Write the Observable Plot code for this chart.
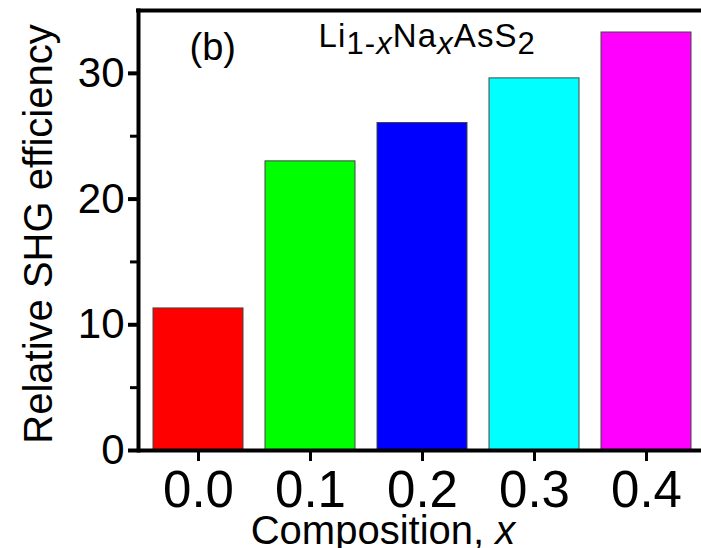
<!DOCTYPE html>
<html><head><meta charset="utf-8">
<script src="https://cdn.jsdelivr.net/npm/d3@7"></script>
<script src="https://cdn.jsdelivr.net/npm/@observablehq/plot@0.6"></script>
<style>
html,body{margin:0;padding:0;background:#fff;overflow:hidden;}
svg{overflow:hidden;display:block;}
</style></head><body><div id="chart"></div>
<script>
const compositions = ["0.0", "0.1", "0.2", "0.3", "0.4"];
const efficiency = [11.3, 23.0, 26.05, 29.6, 33.25];
const barColors = ["#ff0000", "#00ff00", "#0000ff", "#00ffff", "#ff00ff"];
const yMajorTicks = [0, 10, 20, 30];
const yMinorTicks = [5, 15, 25];
const yDomain = [0, 35];
const panelLabel = "(b)";
const formulaParts = ["Li", "1-", "x", "Na", "x", "AsS", "2"];
const formulaKinds = ["n", "s", "si", "n", "si", "n", "s"];
const xLabel = "Composition, x";
const yLabel = "Relative SHG efficiency";

const data = compositions.map((c, i) => ({c, v: efficiency[i], color: barColors[i]}));
const FONT = "'Liberation Sans', Arial, Helvetica, sans-serif";

const chart = Plot.plot({
  width: 701,
  height: 548,
  marginLeft: 138,
  marginRight: 0,
  marginTop: 10,
  marginBottom: 98,
  style: {fontFamily: FONT, background: "white", overflow: "hidden", color: "black"},
  x: {type: "band", domain: compositions, range: [138, 705], paddingInner: 0.2, paddingOuter: 0.114, axis: null},
  y: {domain: yDomain, axis: null},
  marks: [
    Plot.barY(data, {x: "c", y: "v", fill: d => d.color, stroke: "#444", strokeWidth: 1}),
    Plot.frame({anchor: "left", stroke: "black", strokeWidth: 4}),
    Plot.ruleY([yDomain[0]], {stroke: "black", strokeWidth: 4}),
    Plot.ruleY([yDomain[1]], {stroke: "black", strokeWidth: 4, strokeLinecap: "square"}),
    Plot.axisY({ticks: yMinorTicks, tickSize: 8, strokeWidth: 3, tickFormat: () => "", label: null}),
    Plot.axisY({ticks: yMajorTicks, tickSize: 10, tickPadding: 4, fontSize: 42, strokeWidth: 4, label: null}),
    Plot.axisX({tickSize: 11, tickPadding: 9, fontSize: 51, strokeWidth: 3, label: null}),
    Plot.text([panelLabel], {frameAnchor: "top-left", dx: 51, dy: 23, lineAnchor: "top", textAnchor: "start", fontSize: 38, fill: "black"}),
    Plot.text([formulaParts.join("")], {frameAnchor: "top-left", dx: 180, dy: 13, lineAnchor: "top", textAnchor: "start", fontSize: 33, fill: "black"}),
    Plot.text([xLabel], {frameAnchor: "bottom", dx: -37, dy: 64.6, lineAnchor: "top", textAnchor: "middle", fontSize: 40, fill: "black"}),
    Plot.text([yLabel], {frameAnchor: "left", dx: -99, dy: 3.5, rotate: -90, lineAnchor: "middle", textAnchor: "middle", fontSize: 40, fill: "black"})
  ]
});

// rich text: subscripts in formula, italic x in axis label
d3.select(chart).selectAll("text").each(function() {
  const t = d3.select(this);
  const s = this.textContent;
  if (s === formulaParts.join("")) {
    t.text(null).attr("letter-spacing", 1.1);
    let sub = false;
    formulaParts.forEach((p, i) => {
      const k = formulaKinds[i];
      const isSub = k !== "n";
      const ts = t.append("tspan").text(p);
      if (isSub && !sub) ts.attr("dy", 7.3);
      if (!isSub && sub) ts.attr("dy", -7.3);
      if (isSub) ts.attr("font-size", 31);
      if (k === "si") ts.attr("font-style", "italic");
      sub = isSub;
    });
  } else if (s === xLabel) {
    t.text(null);
    t.append("tspan").text(xLabel.slice(0, -1));
    t.append("tspan").attr("font-style", "italic").text(xLabel.slice(-1));
  }
});

document.getElementById("chart").appendChild(chart);
</script>
</body></html>
